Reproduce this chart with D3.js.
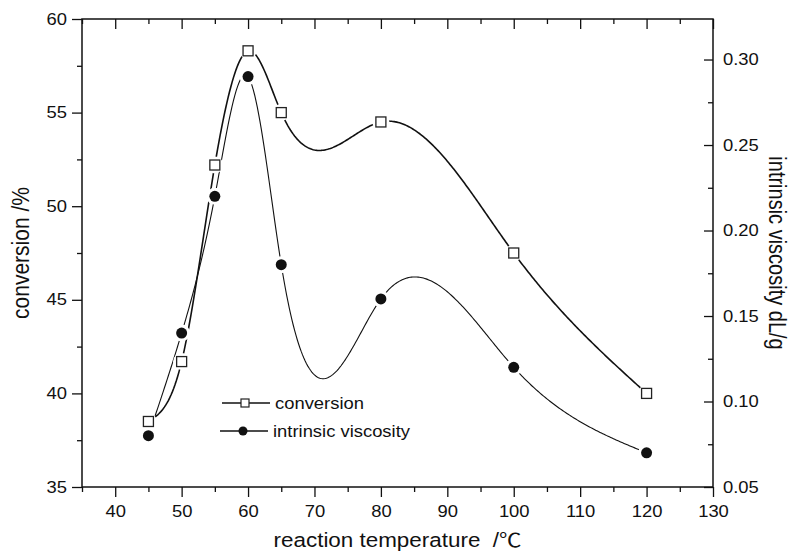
<!DOCTYPE html>
<html>
<head>
<meta charset="utf-8">
<script src="https://cdn.jsdelivr.net/npm/d3@7"></script>
<style>
  body { margin: 0; background: #fff; }
  text { font-family: "Liberation Sans", Arial, sans-serif; fill: #111; }
</style>
</head>
<body>
<svg id="chart" width="791" height="558"></svg>
<script>
// data
const temps = [45, 50, 55, 60, 65, 80, 100, 120];
const conversion = [38.5, 41.7, 52.2, 58.3, 55.0, 54.5, 47.5, 40.0];
const viscosity = [0.08, 0.14, 0.22, 0.29, 0.18, 0.16, 0.12, 0.07];

const xMajor = [40, 50, 60, 70, 80, 90, 100, 110, 120, 130];
const xMinor = [35, 45, 55, 65, 75, 85, 95, 105, 115, 125];
const leftMajor = [35, 40, 45, 50, 55, 60];
const leftMinor = [37.5, 42.5, 47.5, 52.5, 57.5];
const rightMajor = [0.05, 0.10, 0.15, 0.20, 0.25, 0.30];
const rightMinor = [0.075, 0.125, 0.175, 0.225, 0.275];

const width = 791, height = 558;
const margin = { top: 19, right: 78, bottom: 71, left: 82 };
const plotW = width - margin.left - margin.right;
const plotH = height - margin.top - margin.bottom;
const stretch = 1.15; // the source image is a little wider than tall

const svg = d3.select('#chart');
const g = svg.append('g').attr('transform', `translate(${margin.left},${margin.top})`);

const x = d3.scaleLinear().domain([35, 130]).range([0, plotW]);
const yL = d3.scaleLinear().domain([35, 60]).range([plotH, 0]);
const yR = d3.scaleLinear().domain([0.05, 0.3237]).range([plotH, 0]);

// natural cubic spline over x, like the original plotting program
function naturalSpline(xs, ys) {
  const n = xs.length;
  const h = d3.range(n - 1).map(i => xs[i + 1] - xs[i]);
  const a = new Array(n).fill(0), b = new Array(n).fill(1), c = new Array(n).fill(0), r = new Array(n).fill(0);
  for (let i = 1; i < n - 1; i++) {
    a[i] = h[i - 1];
    b[i] = 2 * (h[i - 1] + h[i]);
    c[i] = h[i];
    r[i] = 6 * ((ys[i + 1] - ys[i]) / h[i] - (ys[i] - ys[i - 1]) / h[i - 1]);
  }
  // Thomas algorithm
  for (let i = 1; i < n; i++) {
    const m = a[i] / b[i - 1];
    b[i] -= m * c[i - 1];
    r[i] -= m * r[i - 1];
  }
  const M = new Array(n).fill(0);
  M[n - 1] = r[n - 1] / b[n - 1];
  for (let i = n - 2; i >= 0; i--) M[i] = (r[i] - c[i] * M[i + 1]) / b[i];
  return t => {
    let i = Math.min(n - 2, Math.max(0, d3.bisectRight(xs, t) - 1));
    const hi = h[i], A = (xs[i + 1] - t) / hi, B = (t - xs[i]) / hi;
    return A * ys[i] + B * ys[i + 1] + ((A * A * A - A) * M[i] + (B * B * B - B) * M[i + 1]) * hi * hi / 6;
  };
}

function curvePoints(xs, ys) {
  const f = naturalSpline(xs, ys);
  return d3.range(xs[0], xs[xs.length - 1] + 0.001, 0.2).map(t => [t, f(t)]);
}

// axes
function styleAxis(sel) {
  sel.select('.domain').remove();
  sel.selectAll('line').attr('stroke', '#111').attr('stroke-width', 1.3);
  sel.selectAll('text').attr('font-size', 16).attr('fill', '#111');
}

// bottom (outward)
g.append('g').attr('transform', `translate(0,${plotH})`)
  .call(d3.axisBottom(x).tickValues(xMajor).tickSize(10).tickPadding(9).tickFormat(d3.format('d')))
  .call(styleAxis)
  .call(s => s.selectAll('text').attr('transform', `scale(${stretch},1)`));
g.append('g').attr('transform', `translate(0,${plotH})`)
  .call(d3.axisBottom(x).tickValues(xMinor).tickSize(5).tickFormat(''))
  .call(styleAxis);

// top (inward)
g.append('g')
  .call(d3.axisTop(x).tickValues(xMajor).tickSize(-10).tickFormat(''))
  .call(styleAxis);
g.append('g')
  .call(d3.axisTop(x).tickValues(xMinor).tickSize(-5).tickFormat(''))
  .call(styleAxis);

// left (outward)
g.append('g')
  .call(d3.axisLeft(yL).tickValues(leftMajor).tickSize(10).tickPadding(3).tickFormat(d3.format('d')))
  .call(styleAxis)
  .call(s => s.selectAll('text').attr('transform', `scale(${stretch},1)`));
g.append('g')
  .call(d3.axisLeft(yL).tickValues(leftMinor).tickSize(5).tickFormat(''))
  .call(styleAxis);

// right (inward ticks, labels outside)
g.append('g').attr('transform', `translate(${plotW},0)`)
  .call(d3.axisRight(yR).tickValues(rightMajor).tickSize(-9).tickPadding(8.7).tickFormat(d3.format('.2f')))
  .call(styleAxis)
  .call(s => s.selectAll('text').attr('transform', `scale(${stretch},1)`));
g.append('g').attr('transform', `translate(${plotW},0)`)
  .call(d3.axisRight(yR).tickValues(rightMinor).tickSize(-5).tickFormat(''))
  .call(styleAxis);

// frame
g.append('rect')
  .attr('width', plotW).attr('height', plotH)
  .attr('fill', 'none').attr('stroke', '#111').attr('stroke-width', 1.5);

// gaps in the lines around every symbol
const markerPts = temps.flatMap((t, i) => [[x(t), yL(conversion[i])], [x(t), yR(viscosity[i])]]);
const defs = svg.append('defs');
const mask = defs.append('mask').attr('id', 'gaps')
  .attr('maskUnits', 'userSpaceOnUse')
  .attr('x', -margin.left).attr('y', -margin.top).attr('width', width).attr('height', height);
mask.append('rect').attr('x', -margin.left).attr('y', -margin.top)
  .attr('width', width).attr('height', height).attr('fill', '#fff');
mask.selectAll('circle').data(markerPts).join('circle')
  .attr('cx', d => d[0]).attr('cy', d => d[1]).attr('r', 8.5).attr('fill', '#000');

const lineL = d3.line().x(d => x(d[0])).y(d => yL(d[1]));
const lineR = d3.line().x(d => x(d[0])).y(d => yR(d[1]));

g.append('path')
  .attr('d', lineL(curvePoints(temps, conversion)))
  .attr('fill', 'none').attr('stroke', '#111').attr('stroke-width', 1.6)
  .attr('mask', 'url(#gaps)');
g.append('path')
  .attr('d', lineR(curvePoints(temps, viscosity)))
  .attr('fill', 'none').attr('stroke', '#111').attr('stroke-width', 1.1)
  .attr('mask', 'url(#gaps)');

// symbols
g.selectAll('.sq').data(temps).join('rect')
  .attr('class', 'sq')
  .attr('x', (d) => x(d) - 5)
  .attr('y', (d, i) => yL(conversion[i]) - 5)
  .attr('width', 10).attr('height', 10)
  .attr('fill', '#fff').attr('stroke', '#222').attr('stroke-width', 1.3);
g.selectAll('.dot').data(temps).join('circle')
  .attr('class', 'dot')
  .attr('cx', d => x(d))
  .attr('cy', (d, i) => yR(viscosity[i]))
  .attr('r', 5.5).attr('fill', '#111');

// legend
const leg = svg.append('g');
leg.append('line').attr('x1', 222).attr('x2', 270).attr('y1', 403).attr('y2', 403)
  .attr('stroke', '#111').attr('stroke-width', 1.3);
leg.append('rect').attr('x', 241).attr('y', 399).attr('width', 8).attr('height', 8)
  .attr('fill', '#fff').attr('stroke', '#222').attr('stroke-width', 1.2);
leg.append('text').attr('transform', `translate(275,409) scale(${stretch},1)`)
  .attr('font-size', 16).text('conversion');
leg.append('line').attr('x1', 220).attr('x2', 268).attr('y1', 431).attr('y2', 431)
  .attr('stroke', '#111').attr('stroke-width', 1.3);
leg.append('circle').attr('cx', 243).attr('cy', 431).attr('r', 4.5).attr('fill', '#111');
leg.append('text').attr('transform', `translate(273,437) scale(${stretch},1)`)
  .attr('font-size', 16).text('intrinsic viscosity');

// axis titles
const xTitle = svg.append('text')
  .attr('transform', `translate(${margin.left + plotW / 2},547) scale(${stretch},1)`)
  .attr('text-anchor', 'middle').attr('font-size', 19.5)
  .style('white-space', 'pre');
xTitle.append('tspan').text('reaction temperature  /');
xTitle.append('tspan').style('font-family', '"Noto Sans CJK SC", sans-serif').text('\u2103');

svg.append('text')
  .attr('transform', `translate(29,${margin.top + plotH / 2}) scale(${stretch},1) rotate(-90)`)
  .attr('text-anchor', 'middle').attr('font-size', 21)
  .text('conversion /%');
svg.append('text')
  .attr('transform', `translate(769,${margin.top + plotH / 2}) scale(${stretch},1) rotate(90)`)
  .attr('text-anchor', 'middle').attr('font-size', 20)
  .text('intrinsic viscosity dL/g');
</script>
</body>
</html>
